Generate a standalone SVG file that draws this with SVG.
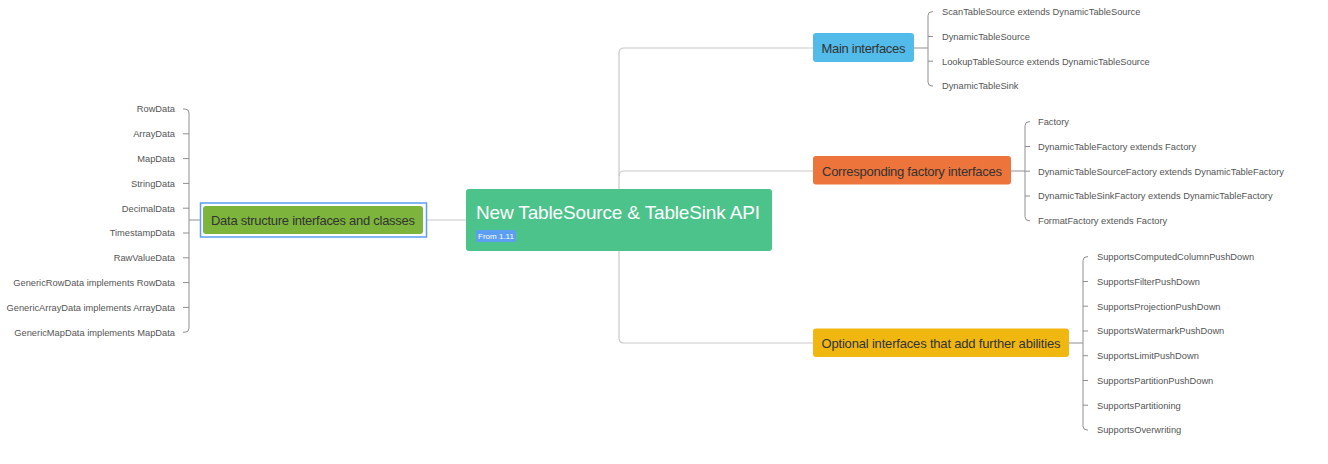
<svg xmlns="http://www.w3.org/2000/svg" width="1328" height="464" viewBox="0 0 1328 464">
<style>
.main{fill:none;stroke:#c9c9c9;stroke-width:1.2}
.br{fill:none;stroke:#8f8f8f;stroke-width:1}
.leaf{font-family:"Liberation Sans",Arial,sans-serif;font-size:9.3px;fill:#555}
.lt{font-family:"Liberation Sans",Arial,sans-serif;font-size:13px;fill:#333}
.root{font-family:"Liberation Sans",Arial,sans-serif;font-size:19px;fill:#fff}
</style>
<rect width="1328" height="464" fill="#fff"/>
<g id="connectors">
<path class="main" d="M619,189 V53 Q619,48 624,48 H813"/>
<path class="main" d="M619,176 Q619,171 624,171 H813"/>
<path class="main" d="M619,251 V338 Q619,343 624,343 H813"/>
<path class="main" d="M427,220 H466"/>
<path class="br" d="M914,48 H928 M933,11.7 H932 Q928,11.7 928,15.7 V82 Q928,86 932,86 H933 M928,36.5 H933 M928,61.2 H933"/>
<path class="br" d="M1011,171 H1025 M1030,121.7 H1029 Q1025,121.7 1025,125.7 V216.7 Q1025,220.7 1029,220.7 H1030 M1025,146.5 H1030 M1025,171.2 H1030 M1025,196 H1030"/>
<path class="br" d="M1069,343 H1083 M1088,256.7 H1087 Q1083,256.7 1083,260.7 V426 Q1083,430 1087,430 H1088 M1083,281.5 H1088 M1083,306.2 H1088 M1083,331 H1088 M1083,355.7 H1088 M1083,380.5 H1088 M1083,405.2 H1088"/>
<path class="br" d="M200,220 H189 M183,109 H185 Q189,109 189,113 V328.2 Q189,332.2 185,332.2 H183 M189,133.8 H183 M189,158.6 H183 M189,183.4 H183 M189,208.2 H183 M189,233 H183 M189,257.8 H183 M189,282.6 H183 M189,307.4 H183"/>
</g>
<g id="root">
<rect x="466" y="189" width="306" height="62" rx="3" fill="#4cc38a"/>
<text class="root" x="476" y="219.3" textLength="284">New TableSource &amp; TableSink API</text>
<rect x="476" y="230" width="40" height="12" rx="1.5" fill="#5b9ef2"/>
<text x="496" y="239" text-anchor="middle" font-family="Liberation Sans, Arial, sans-serif" font-size="8" fill="#fff">From 1.11</text>
</g>
<g id="main-interfaces">
<rect x="813" y="33" width="101" height="29" rx="3" fill="#52bbe9"/>
<text class="lt" x="863.5" y="52.5" text-anchor="middle" textLength="84">Main interfaces</text>
</g>
<g id="main-leaves">
<text class="leaf" x="942" y="15">ScanTableSource extends DynamicTableSource</text>
<text class="leaf" x="942" y="39.8">DynamicTableSource</text>
<text class="leaf" x="942" y="64.5">LookupTableSource extends DynamicTableSource</text>
<text class="leaf" x="942" y="89.3">DynamicTableSink</text>
</g>
<g id="factory-interfaces">
<rect x="813" y="156" width="198" height="28.5" rx="3" fill="#ed743a"/>
<text class="lt" x="912" y="175.7" text-anchor="middle" textLength="180">Corresponding factory interfaces</text>
</g>
<g id="factory-leaves">
<text class="leaf" x="1038" y="125">Factory</text>
<text class="leaf" x="1038" y="149.8">DynamicTableFactory extends Factory</text>
<text class="leaf" x="1038" y="174.5">DynamicTableSourceFactory extends DynamicTableFactory</text>
<text class="leaf" x="1038" y="199.3">DynamicTableSinkFactory extends DynamicTableFactory</text>
<text class="leaf" x="1038" y="224">FormatFactory extends Factory</text>
</g>
<g id="optional-interfaces">
<rect x="813" y="328.5" width="256" height="28.5" rx="3" fill="#f0b710"/>
<text class="lt" x="941" y="348" text-anchor="middle" textLength="239">Optional interfaces that add further abilities</text>
</g>
<g id="optional-leaves">
<text class="leaf" x="1097" y="260">SupportsComputedColumnPushDown</text>
<text class="leaf" x="1097" y="284.8">SupportsFilterPushDown</text>
<text class="leaf" x="1097" y="309.5">SupportsProjectionPushDown</text>
<text class="leaf" x="1097" y="334.3">SupportsWatermarkPushDown</text>
<text class="leaf" x="1097" y="359">SupportsLimitPushDown</text>
<text class="leaf" x="1097" y="383.8">SupportsPartitionPushDown</text>
<text class="leaf" x="1097" y="408.5">SupportsPartitioning</text>
<text class="leaf" x="1097" y="433.3">SupportsOverwriting</text>
</g>
<g id="data-structures">
<rect x="200.5" y="203" width="226" height="34" fill="none" stroke="#5b9ef5" stroke-width="1.5"/>
<rect x="203" y="206" width="220" height="28" rx="3" fill="#7db53c"/>
<text class="lt" x="313" y="225" text-anchor="middle" textLength="204">Data structure interfaces and classes</text>
</g>
<g id="data-leaves" text-anchor="end">
<text class="leaf" x="175" y="112.3">RowData</text>
<text class="leaf" x="175" y="137.1">ArrayData</text>
<text class="leaf" x="175" y="161.9">MapData</text>
<text class="leaf" x="175" y="186.7">StringData</text>
<text class="leaf" x="175" y="211.5">DecimalData</text>
<text class="leaf" x="175" y="236.3">TimestampData</text>
<text class="leaf" x="175" y="261.1">RawValueData</text>
<text class="leaf" x="175" y="285.9">GenericRowData implements RowData</text>
<text class="leaf" x="175" y="310.7">GenericArrayData implements ArrayData</text>
<text class="leaf" x="175" y="335.5">GenericMapData implements MapData</text>
</g>
</svg>
